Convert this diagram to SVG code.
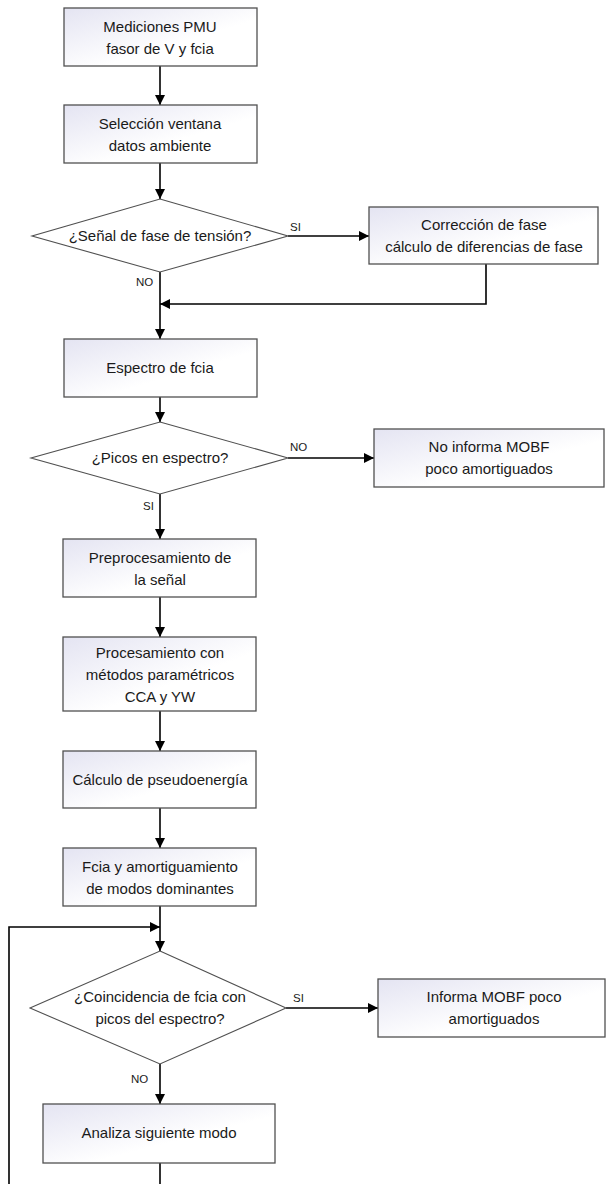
<svg xmlns="http://www.w3.org/2000/svg" width="606" height="1184" viewBox="0 0 606 1184">
<style>
.box{fill:url(#g);stroke:#505050;stroke-width:1.3}
.dia{fill:#ffffff;stroke:#505050;stroke-width:1.1}
.t{font-family:"Liberation Sans",Arial,sans-serif;font-size:15px;fill:#1a1a1a;text-anchor:middle}
.l{font-family:"Liberation Sans",Arial,sans-serif;font-size:11.5px;fill:#1a1a1a}
.c{fill:none;stroke:#000;stroke-width:1.6}
.a{marker-end:url(#ah)}
</style>
<defs>
<linearGradient id="g" x1="0" y1="0" x2="1" y2="1">
<stop offset="0" stop-color="#e4e4f2"/>
<stop offset="0.6" stop-color="#ffffff"/>
</linearGradient>
<marker id="ah" markerWidth="10" markerHeight="10" refX="10" refY="5" orient="auto" markerUnits="userSpaceOnUse">
<path d="M0,0 L10,5 L0,10 Z" fill="#000"/>
</marker>
</defs>
<g id="connectors">
<path class="c a" d="M160,66 V105"/>
<path class="c a" d="M160,163 V199"/>
<path class="c a" d="M288,236 H369"/>
<path class="c a" d="M486,264 V304 H160"/>
<path class="c a" d="M160,272 V339"/>
<path class="c a" d="M160,397 V422"/>
<path class="c a" d="M288,458 H374"/>
<path class="c a" d="M160,494 V539"/>
<path class="c a" d="M160,597 V637"/>
<path class="c a" d="M160,711 V751"/>
<path class="c a" d="M160,808 V848"/>
<path class="c a" d="M160,906 V951"/>
<path class="c a" d="M9,1184 V927 H160"/>
<path class="c a" d="M286,1008 H378"/>
<path class="c a" d="M160,1064 V1104"/>
<path class="c" d="M160,1163 V1184"/>
<text class="l" x="290" y="231">SI</text>
<text class="l" x="136" y="286">NO</text>
<text class="l" x="290" y="451">NO</text>
<text class="l" x="143" y="510">SI</text>
<text class="l" x="293" y="1002">SI</text>
<text class="l" x="131" y="1083">NO</text>
</g>
<g id="n1"><rect class="box" x="64" y="8" width="193" height="58"/><text class="t" x="160" y="32">Mediciones PMU</text><text class="t" x="160" y="54">fasor de V y fcia</text></g>
<g id="n2"><rect class="box" x="64" y="105" width="193" height="58"/><text class="t" x="160" y="129">Selección ventana</text><text class="t" x="160" y="151">datos ambiente</text></g>
<g id="d1"><polygon class="dia" points="160,199 288,236 160,272 32,236"/><text class="t" x="160" y="241">¿Señal de fase de tensión?</text></g>
<g id="n3"><rect class="box" x="369" y="207" width="229" height="57"/><text class="t" x="484" y="230">Corrección de fase</text><text class="t" x="484" y="252">cálculo de diferencias de fase</text></g>
<g id="n4"><rect class="box" x="64" y="339" width="193" height="58"/><text class="t" x="160" y="373">Espectro de fcia</text></g>
<g id="d2"><polygon class="dia" points="160,422 288,458 160,494 31,458"/><text class="t" x="160" y="463">¿Picos en espectro?</text></g>
<g id="n5"><rect class="box" x="374" y="429" width="230" height="58"/><text class="t" x="489" y="452">No informa MOBF</text><text class="t" x="489" y="474">poco amortiguados</text></g>
<g id="n6"><rect class="box" x="63" y="539" width="193" height="58"/><text class="t" x="160" y="563">Preprocesamiento de</text><text class="t" x="160" y="585">la señal</text></g>
<g id="n7"><rect class="box" x="63" y="637" width="193" height="74"/><text class="t" x="160" y="658">Procesamiento con</text><text class="t" x="160" y="680">métodos paramétricos</text><text class="t" x="160" y="702">CCA y YW</text></g>
<g id="n8"><rect class="box" x="63" y="751" width="193" height="57"/><text class="t" x="160" y="785">Cálculo de pseudoenergía</text></g>
<g id="n9"><rect class="box" x="63" y="848" width="193" height="58"/><text class="t" x="160" y="872">Fcia y amortiguamiento</text><text class="t" x="160" y="894">de modos dominantes</text></g>
<g id="d3"><polygon class="dia" points="160,951 286,1008 160,1064 30,1008"/><text class="t" x="160" y="1002">¿Coincidencia de fcia con</text><text class="t" x="160" y="1024">picos del espectro?</text></g>
<g id="n10"><rect class="box" x="378" y="979" width="227" height="58"/><text class="t" x="494" y="1002">Informa MOBF poco</text><text class="t" x="494" y="1024">amortiguados</text></g>
<g id="n11"><rect class="box" x="43" y="1104" width="232" height="59"/><text class="t" x="159" y="1138">Analiza siguiente modo</text></g>
</svg>
